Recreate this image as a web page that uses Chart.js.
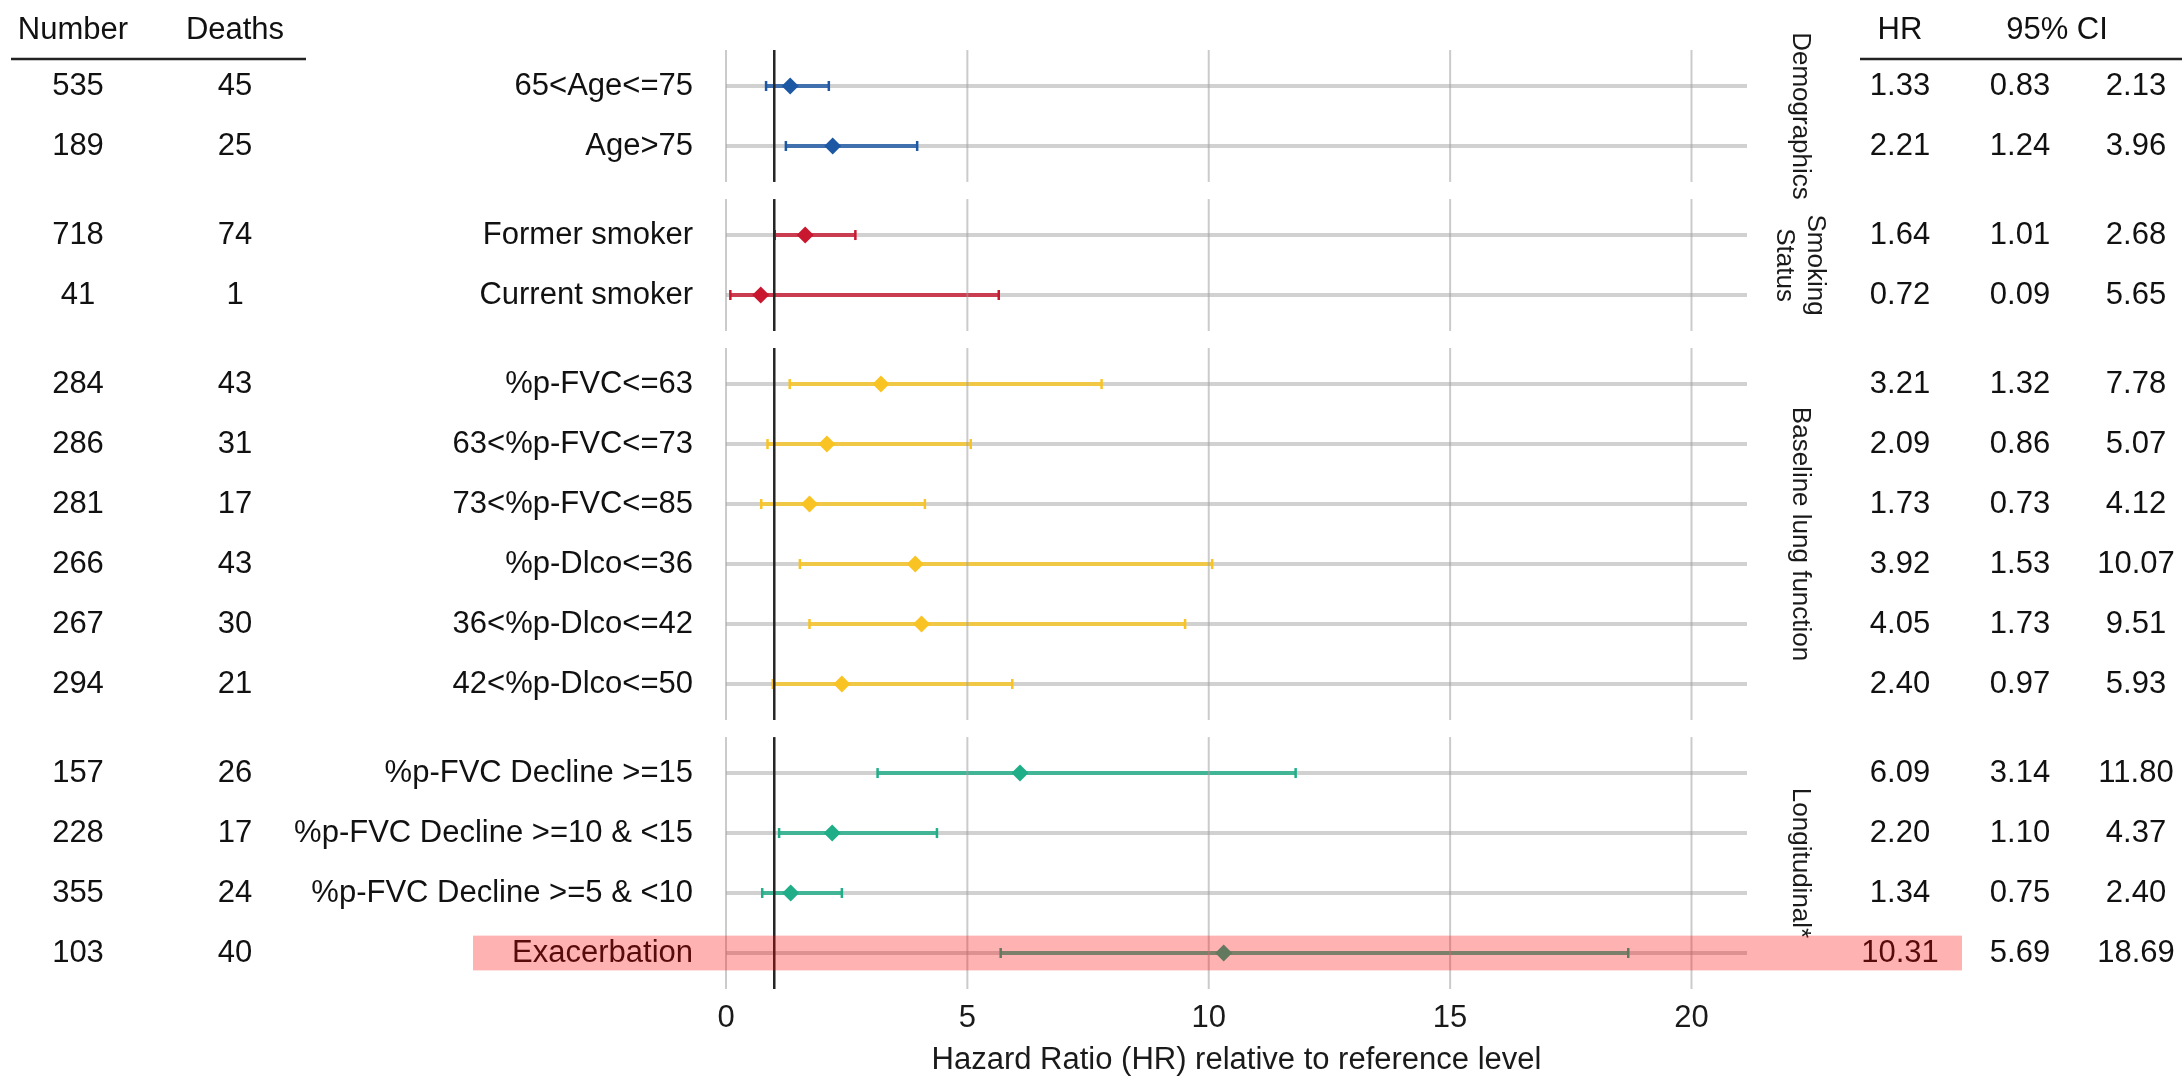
<!DOCTYPE html>
<html>
<head>
<meta charset="utf-8">
<script src="https://cdn.jsdelivr.net/npm/chart.js@4.4.1/dist/chart.umd.min.js"></script>
<style>
  html, body { margin: 0; padding: 0; background: #fff; }
  #wrap { width: 2182px; height: 1079px; position: relative; }
</style>
</head>
<body>
<div id="wrap"><canvas id="forestChart"></canvas></div>
<script>
// rows, top to bottom
const labels = ['65<Age<=75', 'Age>75', 'Former smoker', 'Current smoker',
	'%p-FVC<=63', '63<%p-FVC<=73', '73<%p-FVC<=85', '%p-Dlco<=36', '36<%p-Dlco<=42', '42<%p-Dlco<=50',
	'%p-FVC Decline >=15', '%p-FVC Decline >=10 & <15', '%p-FVC Decline >=5 & <10', 'Exacerbation'];
const numbers = [535, 189, 718, 41, 284, 286, 281, 266, 267, 294, 157, 228, 355, 103];
const deaths = [45, 25, 74, 1, 43, 31, 17, 43, 30, 21, 26, 17, 24, 40];
const hr = [1.33, 2.21, 1.64, 0.72, 3.21, 2.09, 1.73, 3.92, 4.05, 2.40, 6.09, 2.20, 1.34, 10.31];
const ciLow = [0.83, 1.24, 1.01, 0.09, 1.32, 0.86, 0.73, 1.53, 1.73, 0.97, 3.14, 1.10, 0.75, 5.69];
const ciHigh = [2.13, 3.96, 2.68, 5.65, 7.78, 5.07, 4.12, 10.07, 9.51, 5.93, 11.80, 4.37, 2.40, 18.69];

const groups = ['Demographics', 'Smoking\nStatus', 'Baseline lung function', 'Longitudinal*'];
const groupSizes = [2, 2, 6, 4];
const groupColors = ['#1d58a5', '#c8172f', '#f9c423', '#1fae88'];

const xTicks = [0, 5, 10, 15, 20];
const highlightRow = 'Exacerbation';

const X_MAX = 21.15;
const PAD = 0.6;     // discrete axis expansion inside each facet
const GAP = 0.285;   // space between facets (in row units)
const FONT = '"Liberation Sans", Arial, Helvetica, sans-serif';
const TXT = 31;

// facet layout in row units
const rowY = [];
const rowGroup = [];
const panels = [];
let cursor = 0;
groupSizes.forEach(function(n, g) {
	const top = cursor;
	for (let i = 0; i < n; i++) {
		rowY.push(top + PAD + i);
		rowGroup.push(g);
	}
	const bottom = top + 2 * PAD + n - 1;
	panels.push({ top: top, bottom: bottom });
	cursor = bottom + GAP;
});
const Y_MAX = cursor - GAP;

function withAlpha(hex, a) {
	const n = parseInt(hex.slice(1), 16);
	return 'rgba(' + (n >> 16) + ',' + ((n >> 8) & 255) + ',' + (n & 255) + ',' + a + ')';
}

// datasets: points on top, then CI bars, then row guide lines
const datasets = [{
	type: 'scatter',
	data: hr.map(function(v, i) { return { x: v, y: rowY[i] }; }),
	pointStyle: 'rectRot',
	pointRadius: 8.5,
	pointBorderWidth: 0,
	pointBackgroundColor: rowGroup.map(function(g) { return groupColors[g]; }),
	order: 0
}];
labels.forEach(function(l, i) {
	const c = groupColors[rowGroup[i]];
	datasets.push({
		type: 'line',
		data: [{ x: ciLow[i], y: rowY[i] }, { x: ciHigh[i], y: rowY[i] }],
		borderColor: withAlpha(c, 0.8),
		borderWidth: 4,
		pointStyle: 'line',
		rotation: 90,
		pointRadius: 5,
		pointBorderWidth: 2.5,
		pointBorderColor: c,
		order: 1
	});
	datasets.push({
		type: 'line',
		data: [{ x: 0, y: rowY[i] }, { x: X_MAX, y: rowY[i] }],
		borderColor: 'rgba(190,190,190,0.7)',
		borderWidth: 4,
		pointRadius: 0,
		order: 2
	});
});

const forestDecor = {
	id: 'forestDecor',
	afterDatasetsDraw: function(chart) {
		const ctx = chart.ctx;
		const xs = chart.scales.x;
		const ys = chart.scales.y;

		// facet grid lines and reference line at HR = 1
		panels.forEach(function(p) {
			const t = ys.getPixelForValue(p.top);
			const b = ys.getPixelForValue(p.bottom);
			ctx.save();
			ctx.strokeStyle = 'rgba(160,160,160,0.55)';
			ctx.lineWidth = 2;
			xTicks.forEach(function(v) {
				const x = xs.getPixelForValue(v);
				ctx.beginPath(); ctx.moveTo(x, t); ctx.lineTo(x, b); ctx.stroke();
			});
			const x1 = xs.getPixelForValue(1);
			ctx.strokeStyle = '#262626';
			ctx.lineWidth = 2.5;
			ctx.beginPath(); ctx.moveTo(x1, t); ctx.lineTo(x1, b); ctx.stroke();
			ctx.restore();
		});

		ctx.save();
		ctx.fillStyle = '#111';
		ctx.textBaseline = 'middle';
		ctx.font = TXT + 'px ' + FONT;

		// headers
		ctx.textAlign = 'center';
		ctx.fillText('Number', 73, 30);
		ctx.fillText('Deaths', 235, 30);
		ctx.fillText('HR', 1900, 30);
		ctx.fillText('95% CI', 2057, 30);
		ctx.strokeStyle = '#222';
		ctx.lineWidth = 2.5;
		ctx.beginPath(); ctx.moveTo(11, 59); ctx.lineTo(306, 59); ctx.stroke();
		ctx.beginPath(); ctx.moveTo(1860, 59); ctx.lineTo(2182, 59); ctx.stroke();

		// table rows
		labels.forEach(function(l, i) {
			const y = ys.getPixelForValue(rowY[i]);
			ctx.textAlign = 'center';
			ctx.fillText(String(numbers[i]), 78, y);
			ctx.fillText(String(deaths[i]), 235, y);
			ctx.fillText(hr[i].toFixed(2), 1900, y);
			ctx.fillText(ciLow[i].toFixed(2), 2020, y);
			ctx.fillText(ciHigh[i].toFixed(2), 2136, y);
			ctx.textAlign = 'right';
			ctx.fillText(l, 693, y);
		});

		// facet strips on the right
		ctx.font = '26px ' + FONT;
		ctx.fillStyle = '#1a1a1a';
		ctx.textAlign = 'center';
		groups.forEach(function(g, k) {
			const cy = (ys.getPixelForValue(panels[k].top) + ys.getPixelForValue(panels[k].bottom)) / 2;
			const lines = g.split('\n');
			const lh = 31;
			ctx.save();
			ctx.translate(1800, cy);
			ctx.rotate(Math.PI / 2);
			lines.forEach(function(s, j) {
				ctx.fillText(s, 0, (j - (lines.length - 1) / 2) * lh);
			});
			ctx.restore();
		});
		ctx.restore();

		// highlighted row
		const hi = labels.indexOf(highlightRow);
		if (hi >= 0) {
			const t = ys.getPixelForValue(rowY[hi] - 0.29);
			const b = ys.getPixelForValue(rowY[hi] + 0.29);
			ctx.save();
			ctx.fillStyle = 'rgba(255,0,0,0.3)';
			ctx.fillRect(473, t, 1962 - 473, b - t);
			ctx.restore();
		}
	}
};

new Chart(document.getElementById('forestChart').getContext('2d'), {
	type: 'scatter',
	data: { datasets: datasets },
	options: {
		responsive: true,
		maintainAspectRatio: false,
		animation: false,
		events: [],
		layout: { padding: { left: 726, right: 2182 - 1747, top: 50, bottom: 0 } },
		plugins: { legend: { display: false }, tooltip: { enabled: false } },
		scales: {
			x: {
				type: 'linear',
				min: 0,
				max: X_MAX,
				afterBuildTicks: function(s) { s.ticks = xTicks.map(function(v) { return { value: v }; }); },
				afterFit: function(s) { s.height = 90; },
				grid: { display: false, drawTicks: false },
				border: { display: false },
				ticks: { font: { family: FONT, size: TXT }, color: '#1a1a1a', padding: 11 },
				title: {
					display: true,
					text: 'Hazard Ratio (HR) relative to reference level',
					font: { family: FONT, size: TXT },
					color: '#1a1a1a',
					padding: 0
				}
			},
			y: {
				type: 'linear',
				min: 0,
				max: Y_MAX,
				reverse: true,
				display: false
			}
		}
	},
	plugins: [forestDecor]
});
</script>
</body>
</html>
